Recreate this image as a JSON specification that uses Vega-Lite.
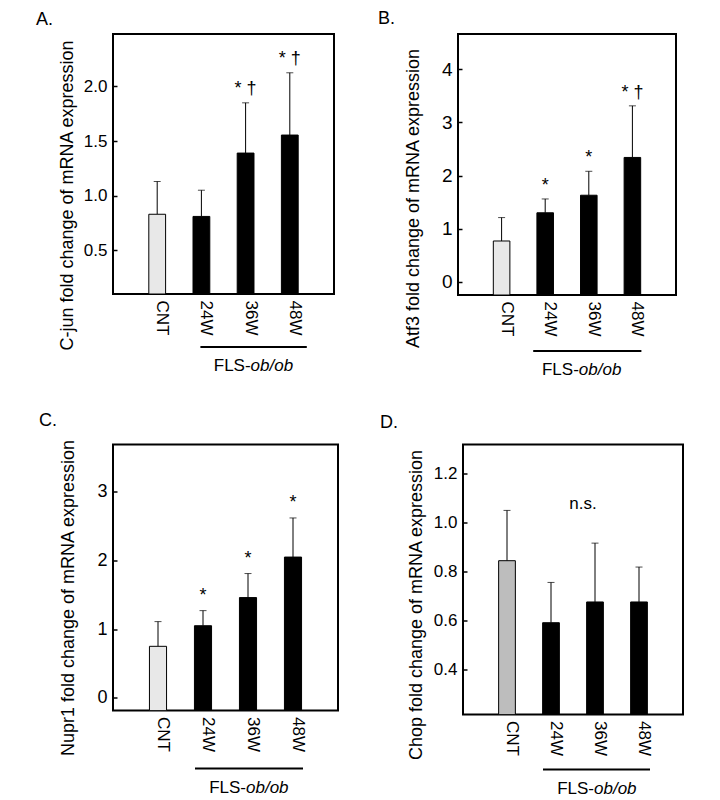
{
  "$schema": "https://vega.github.io/schema/vega-lite/v6.json",
  "background": "white",
  "padding": {"left": 36, "top": 10, "right": 5, "bottom": 1},
  "config": {
    "font": "Liberation Sans",
    "view": {"stroke": "black", "strokeWidth": 2},
    "axis": {"domain": false, "grid": false, "labelColor": "black", "titleColor": "black", "titleFontWeight": "normal", "titleFontSize": 18, "tickColor": "black"},
    "axisY": {"tickSize": -4, "tickWidth": 1.5, "labelPadding": 10, "titleX": -37},
    "axisX": {"ticks": false, "labelAngle": 90, "labelAlign": "left", "labelBaseline": "middle", "labelPadding": 6, "labelFontSize": 17, "labelOffset": 5},
    "scale": {"nice": false},
    "title": {"fontWeight": "normal", "fontSize": 18, "anchor": "start", "frame": "bounds", "color": "black"},
    "text": {"color": "black"}
  },
  "datasets": {
    "A": [
      {"group": "CNT", "mean": 0.83, "upper": 1.13, "sig": ""},
      {"group": "24W", "mean": 0.81, "upper": 1.05, "sig": ""},
      {"group": "36W", "mean": 1.39, "upper": 1.85, "sig": "* †"},
      {"group": "48W", "mean": 1.555, "upper": 2.125, "sig": "* †"}
    ],
    "B": [
      {"group": "CNT", "mean": 0.77, "upper": 1.21, "sig": ""},
      {"group": "24W", "mean": 1.30, "upper": 1.56, "sig": "*"},
      {"group": "36W", "mean": 1.63, "upper": 2.08, "sig": "*"},
      {"group": "48W", "mean": 2.34, "upper": 3.31, "sig": "* †"}
    ],
    "C": [
      {"group": "CNT", "mean": 0.75, "upper": 1.11, "sig": ""},
      {"group": "24W", "mean": 1.05, "upper": 1.27, "sig": "*"},
      {"group": "36W", "mean": 1.46, "upper": 1.81, "sig": "*"},
      {"group": "48W", "mean": 2.05, "upper": 2.62, "sig": "*"}
    ],
    "D": [
      {"group": "CNT", "mean": 0.844, "upper": 1.05, "sig": ""},
      {"group": "24W", "mean": 0.59, "upper": 0.755, "sig": ""},
      {"group": "36W", "mean": 0.675, "upper": 0.916, "sig": ""},
      {"group": "48W", "mean": 0.675, "upper": 0.818, "sig": ""}
    ],
    "bracket": [{"from": "24W", "to": "48W", "row": "line"}],
    "caption": [{"group": "36W", "row": "label", "prefix": "FLS-", "suffix": "ob/ob"}],
    "ns": [{"group": "36W", "label": "n.s.", "level": 1.075}]
  },
  "spacing": 31.5,
  "vconcat": [
    {
      "spacing": 43,
      "hconcat": [
        {
          "title": {"text": "A.", "dx": -21, "offset": 4},
          "spacing": 43.5,
          "bounds": "flush",
          "vconcat": [
            {
              "width": 221, "height": 260,
              "data": {"name": "A"},
              "encoding": {"x": {"field": "group", "type": "nominal", "sort": null, "scale": {"domain": ["CNT", "24W", "36W", "48W"], "paddingInner": 0.62, "paddingOuter": 0.81}, "axis": {"title": null}}},
              "layer": [
                {"mark": {"type": "rule", "color": "black", "strokeWidth": 1}, "encoding": {"y": {"field": "mean", "type": "quantitative", "scale": {"domain": [0.1, 2.48], "nice": false, "zero": false}, "axis": {"title": "C-jun fold change of mRNA expression", "titleY": 161, "values": [0.5, 1, 1.5, 2], "format": ".1f", "labelFontSize": 17}}, "y2": {"field": "upper"}}},
                {"mark": {"type": "bar", "stroke": "black", "strokeWidth": 1, "clip": true}, "encoding": {"y": {"field": "mean", "type": "quantitative"}, "y2": {"datum": 0.1}, "fill": {"condition": {"test": "datum.group === 'CNT'", "value": "#e8e8e8"}, "value": "black"}}},
                {"mark": {"type": "tick", "color": "black", "size": 7, "thickness": 1}, "encoding": {"y": {"field": "upper", "type": "quantitative"}}},
                {"mark": {"type": "text", "fontSize": 18, "dy": -9, "baseline": "alphabetic"}, "encoding": {"y": {"field": "upper", "type": "quantitative"}, "text": {"field": "sig"}}}
              ]
            },
            {
              "width": 221, "height": 38, "view": {"stroke": null},
              "layer": [
                {"data": {"name": "bracket"}, "mark": {"type": "rule", "color": "black", "strokeWidth": 2, "xOffset": -1, "x2Offset": 17}, "encoding": {"x": {"field": "from", "type": "nominal", "scale": {"domain": ["CNT", "24W", "36W", "48W"], "paddingInner": 0.62, "paddingOuter": 0.81}, "axis": null}, "x2": {"field": "to"}, "y": {"field": "row", "type": "nominal", "scale": {"domain": ["line", "label"]}, "axis": null}}},
                {"data": {"name": "caption"}, "mark": {"type": "text", "fontSize": 17, "align": "right", "baseline": "middle", "dx": 5}, "encoding": {"x": {"field": "group", "type": "nominal"}, "y": {"field": "row", "type": "nominal"}, "text": {"field": "prefix"}}},
                {"data": {"name": "caption"}, "mark": {"type": "text", "fontSize": 17, "align": "left", "baseline": "middle", "fontStyle": "italic", "dx": 5}, "encoding": {"x": {"field": "group", "type": "nominal"}, "y": {"field": "row", "type": "nominal"}, "text": {"field": "suffix"}}}
              ]
            }
          ]
        },
        {
          "title": {"text": "B.", "dx": -25, "offset": 5},
          "spacing": 46.5,
          "bounds": "flush",
          "vconcat": [
            {
              "width": 218, "height": 261,
              "data": {"name": "B"},
              "encoding": {"x": {"field": "group", "type": "nominal", "sort": null, "scale": {"domain": ["CNT", "24W", "36W", "48W"], "paddingInner": 0.62, "paddingOuter": 0.81}, "axis": {"title": null}}},
              "layer": [
                {"mark": {"type": "rule", "color": "black", "strokeWidth": 1}, "encoding": {"y": {"field": "mean", "type": "quantitative", "scale": {"domain": [-0.245, 4.66], "nice": false, "zero": false}, "axis": {"title": "Atf3 fold change of mRNA expression", "titleY": 164, "titleX": -36, "values": [0, 1, 2, 3, 4], "format": "d", "labelFontSize": 19}}, "y2": {"field": "upper"}}},
                {"mark": {"type": "bar", "stroke": "black", "strokeWidth": 1, "clip": true}, "encoding": {"y": {"field": "mean", "type": "quantitative"}, "y2": {"datum": -0.245}, "fill": {"condition": {"test": "datum.group === 'CNT'", "value": "#e8e8e8"}, "value": "black"}}},
                {"mark": {"type": "tick", "color": "black", "size": 7, "thickness": 1}, "encoding": {"y": {"field": "upper", "type": "quantitative"}}},
                {"mark": {"type": "text", "fontSize": 18, "dy": -8, "baseline": "alphabetic"}, "encoding": {"y": {"field": "upper", "type": "quantitative"}, "text": {"field": "sig"}}}
              ]
            },
            {
              "width": 218, "height": 38, "view": {"stroke": null},
              "layer": [
                {"data": {"name": "bracket"}, "mark": {"type": "rule", "color": "black", "strokeWidth": 2, "xOffset": -12, "x2Offset": 9}, "encoding": {"x": {"field": "from", "type": "nominal", "scale": {"domain": ["CNT", "24W", "36W", "48W"], "paddingInner": 0.62, "paddingOuter": 0.81}, "axis": null}, "x2": {"field": "to"}, "y": {"field": "row", "type": "nominal", "scale": {"domain": ["line", "label"]}, "axis": null}}},
                {"data": {"name": "caption"}, "mark": {"type": "text", "fontSize": 17, "align": "right", "baseline": "middle", "dx": -10}, "encoding": {"x": {"field": "group", "type": "nominal"}, "y": {"field": "row", "type": "nominal"}, "text": {"field": "prefix"}}},
                {"data": {"name": "caption"}, "mark": {"type": "text", "fontSize": 17, "align": "left", "baseline": "middle", "fontStyle": "italic", "dx": -10}, "encoding": {"x": {"field": "group", "type": "nominal"}, "y": {"field": "row", "type": "nominal"}, "text": {"field": "suffix"}}}
              ]
            }
          ]
        }
      ]
    },
    {
      "spacing": 41,
      "hconcat": [
        {
          "title": {"text": "C.", "dx": -19, "offset": 8},
          "spacing": 48.5,
          "bounds": "flush",
          "vconcat": [
            {
              "width": 225, "height": 266,
              "data": {"name": "C"},
              "encoding": {"x": {"field": "group", "type": "nominal", "sort": null, "scale": {"domain": ["CNT", "24W", "36W", "48W"], "paddingInner": 0.62, "paddingOuter": 0.81}, "axis": {"title": null}}},
              "layer": [
                {"mark": {"type": "rule", "color": "black", "strokeWidth": 1}, "encoding": {"y": {"field": "mean", "type": "quantitative", "scale": {"domain": [-0.185, 3.69], "nice": false, "zero": false}, "axis": {"title": "Nupr1 fold change of mRNA expression", "titleY": 153, "titleX": -36, "values": [0, 1, 2, 3], "format": "d", "labelFontSize": 18}}, "y2": {"field": "upper"}}},
                {"mark": {"type": "bar", "stroke": "black", "strokeWidth": 1, "clip": true}, "encoding": {"y": {"field": "mean", "type": "quantitative"}, "y2": {"datum": -0.185}, "fill": {"condition": {"test": "datum.group === 'CNT'", "value": "#e8e8e8"}, "value": "black"}}},
                {"mark": {"type": "tick", "color": "black", "size": 7, "thickness": 1}, "encoding": {"y": {"field": "upper", "type": "quantitative"}}},
                {"mark": {"type": "text", "fontSize": 18, "dy": -10, "baseline": "alphabetic"}, "encoding": {"y": {"field": "upper", "type": "quantitative"}, "text": {"field": "sig"}}}
              ]
            },
            {
              "width": 225, "height": 38, "view": {"stroke": null},
              "layer": [
                {"data": {"name": "bracket"}, "mark": {"type": "rule", "color": "black", "strokeWidth": 2, "xOffset": -8, "x2Offset": 10}, "encoding": {"x": {"field": "from", "type": "nominal", "scale": {"domain": ["CNT", "24W", "36W", "48W"], "paddingInner": 0.62, "paddingOuter": 0.81}, "axis": null}, "x2": {"field": "to"}, "y": {"field": "row", "type": "nominal", "scale": {"domain": ["line", "label"]}, "axis": null}}},
                {"data": {"name": "caption"}, "mark": {"type": "text", "fontSize": 17, "align": "right", "baseline": "middle", "dx": -2}, "encoding": {"x": {"field": "group", "type": "nominal"}, "y": {"field": "row", "type": "nominal"}, "text": {"field": "prefix"}}},
                {"data": {"name": "caption"}, "mark": {"type": "text", "fontSize": 17, "align": "left", "baseline": "middle", "fontStyle": "italic", "dx": -2}, "encoding": {"x": {"field": "group", "type": "nominal"}, "y": {"field": "row", "type": "nominal"}, "text": {"field": "suffix"}}}
              ]
            }
          ]
        },
        {
          "title": {"text": "D.", "dx": -26, "offset": 11.5},
          "spacing": 45.5,
          "bounds": "flush",
          "vconcat": [
            {
              "width": 220, "height": 270,
              "data": {"name": "D"},
              "encoding": {"x": {"field": "group", "type": "nominal", "sort": null, "scale": {"domain": ["CNT", "24W", "36W", "48W"], "paddingInner": 0.62, "paddingOuter": 0.81}, "axis": {"title": null}}},
              "layer": [
                {"mark": {"type": "rule", "color": "black", "strokeWidth": 1}, "encoding": {"y": {"field": "mean", "type": "quantitative", "scale": {"domain": [0.214, 1.32], "nice": false, "zero": false}, "axis": {"title": "Chop fold change of mRNA expression", "titleY": 160, "titleX": -38, "values": [0.4, 0.6, 0.8, 1.0, 1.2], "format": ".1f", "labelFontSize": 17}}, "y2": {"field": "upper"}}},
                {"mark": {"type": "bar", "stroke": "black", "strokeWidth": 1, "clip": true}, "encoding": {"y": {"field": "mean", "type": "quantitative"}, "y2": {"datum": 0.214}, "fill": {"condition": {"test": "datum.group === 'CNT'", "value": "#bdbdbd"}, "value": "black"}}},
                {"mark": {"type": "tick", "color": "black", "size": 7, "thickness": 1}, "encoding": {"y": {"field": "upper", "type": "quantitative"}}},
                {"data": {"name": "ns"}, "mark": {"type": "text", "fontSize": 17, "dx": -12, "baseline": "middle"}, "encoding": {"y": {"field": "level", "type": "quantitative"}, "text": {"field": "label"}}}
              ]
            },
            {
              "width": 220, "height": 38, "view": {"stroke": null},
              "layer": [
                {"data": {"name": "bracket"}, "mark": {"type": "rule", "color": "black", "strokeWidth": 2, "xOffset": -8, "x2Offset": 11}, "encoding": {"x": {"field": "from", "type": "nominal", "scale": {"domain": ["CNT", "24W", "36W", "48W"], "paddingInner": 0.62, "paddingOuter": 0.81}, "axis": null}, "x2": {"field": "to"}, "y": {"field": "row", "type": "nominal", "scale": {"domain": ["line", "label"]}, "axis": null}}},
                {"data": {"name": "caption"}, "mark": {"type": "text", "fontSize": 17, "align": "right", "baseline": "middle", "dx": -1}, "encoding": {"x": {"field": "group", "type": "nominal"}, "y": {"field": "row", "type": "nominal"}, "text": {"field": "prefix"}}},
                {"data": {"name": "caption"}, "mark": {"type": "text", "fontSize": 17, "align": "left", "baseline": "middle", "fontStyle": "italic", "dx": -1}, "encoding": {"x": {"field": "group", "type": "nominal"}, "y": {"field": "row", "type": "nominal"}, "text": {"field": "suffix"}}}
              ]
            }
          ]
        }
      ]
    }
  ]
}
